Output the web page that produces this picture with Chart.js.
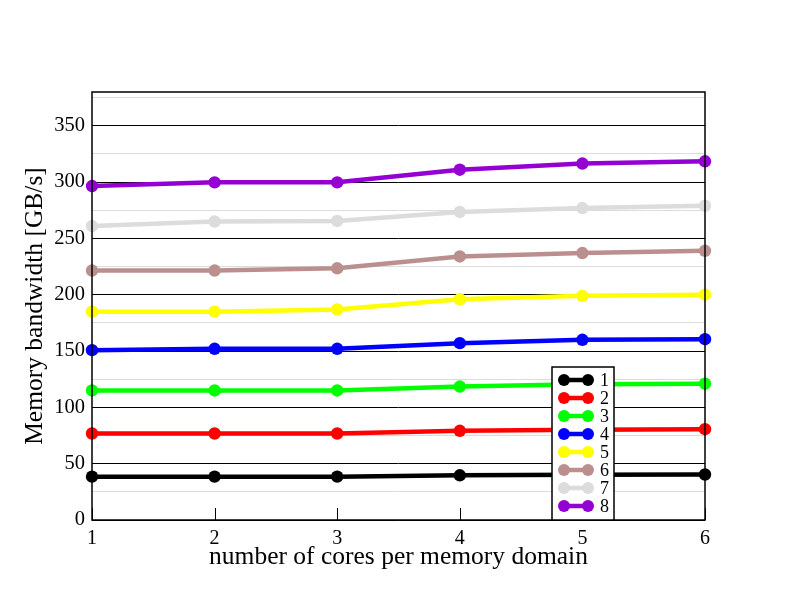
<!DOCTYPE html>
<html>
<head>
<meta charset="utf-8">
<script src="https://cdn.jsdelivr.net/npm/chart.js@4"></script>
<style>
  body { margin: 0; background: #fff; }
  canvas { display: block; }
</style>
</head>
<body>
<canvas id="chart" width="792" height="612"></canvas>
<script>
// Données
const cores = [1, 2, 3, 4, 5, 6];
const seriesLabels = ['1', '2', '3', '4', '5', '6', '7', '8'];
const seriesColors = ['#000000', '#ff0000', '#00ff00', '#0000ff', '#ffff00', '#bc8f8f', '#dcdcdc', '#9400d3'];
const bw1 = [38.5, 38.5, 38.5, 39.7, 40.2, 40.4];
const bw2 = [76.8, 76.8, 76.8, 79.2, 80.2, 80.6];
const bw3 = [115, 115, 115, 118.5, 120.5, 121];
const bw4 = [150.8, 152, 152, 157, 160, 160.5];
const bw5 = [185, 185, 187, 196, 199, 200];
const bw6 = [221.5, 221.5, 223.5, 234, 237, 239];
const bw7 = [261, 265, 265.5, 273.5, 277, 279];
const bw8 = [296.5, 299.8, 299.8, 311, 316.5, 318.5];
const allSeries = [bw1, bw2, bw3, bw4, bw5, bw6, bw7, bw8];

const serif = 'Liberation Serif';

// Cadre, petites graduations et légende dans la zone du graphique
const framePlugin = {
  id: 'frame',
  afterDraw(chart) {
    const ctx = chart.ctx;
    const a = chart.chartArea;
    const xs = chart.scales.x;
    ctx.save();
    ctx.strokeStyle = '#000';
    ctx.lineWidth = 1.5;
    ctx.strokeRect(a.left, a.top, a.right - a.left, a.bottom - a.top);
    ctx.lineWidth = 1;
    cores.forEach(c => {
      const px = Math.round(xs.getPixelForValue(c)) + 0.5;
      ctx.beginPath();
      ctx.moveTo(px, a.bottom);
      ctx.lineTo(px, a.bottom - 12);
      ctx.stroke();
    });

    // légende
    const bx = 552, by = 367, bw = 62, bh = a.bottom - by;
    ctx.fillStyle = '#fff';
    ctx.fillRect(bx, by, bw, bh);
    ctx.strokeStyle = '#000';
    ctx.lineWidth = 1.5;
    ctx.strokeRect(bx, by, bw, bh);
    ctx.font = '18px "' + serif + '"';
    ctx.textBaseline = 'middle';
    chart.data.datasets.forEach((ds, i) => {
      const y = by + 13 + i * 18;
      ctx.strokeStyle = ds.borderColor;
      ctx.fillStyle = ds.borderColor;
      ctx.lineWidth = 4.5;
      ctx.beginPath();
      ctx.moveTo(564, y);
      ctx.lineTo(588, y);
      ctx.stroke();
      [564, 588].forEach(px => {
        ctx.beginPath();
        ctx.arc(px, y, 6, 0, Math.PI * 2);
        ctx.fill();
      });
      ctx.fillStyle = '#000';
      ctx.fillText(ds.label, 600, y + 1);
    });
    ctx.restore();
  }
};

new Chart(document.getElementById('chart').getContext('2d'), {
  type: 'line',
  data: {
    datasets: allSeries.map((vals, i) => ({
      label: seriesLabels[i],
      data: cores.map((c, j) => ({ x: c, y: vals[j] })),
      borderColor: seriesColors[i],
      backgroundColor: seriesColors[i],
      borderWidth: 4.5,
      pointRadius: 6.2,
      pointHoverRadius: 6.2,
      pointBorderWidth: 0,
      tension: 0,
      clip: false
    }))
  },
  options: {
    responsive: false,
    animation: false,
    layout: { padding: { top: 92, right: 87, left: 0, bottom: 0 } },
    plugins: {
      legend: { display: false },
      tooltip: { enabled: false }
    },
    scales: {
      x: {
        type: 'linear',
        min: 1,
        max: 6,
        afterFit: s => { s.height = 92; },
        grid: { display: false, drawTicks: false },
        border: { display: false },
        ticks: {
          stepSize: 1,
          padding: 7,
          color: '#000',
          font: { family: serif, size: 20 }
        },
        title: {
          display: true,
          text: 'number of cores per memory domain',
          color: '#000',
          font: { family: serif, size: 25.5 },
          padding: { top: 0, bottom: 39 }
        }
      },
      y: {
        min: 0,
        max: 380,
        afterFit: s => { s.width = 92; },
        grid: {
          drawTicks: false,
          lineWidth: 1,
          color: c => (c.tick && c.tick.value % 50 === 0) ? '#000' : '#dcdcdc'
        },
        border: { display: false },
        ticks: {
          stepSize: 25,
          includeBounds: false,
          padding: 7,
          color: '#000',
          font: { family: serif, size: 20.5 },
          callback: v => (v % 50 === 0 ? v : '')
        },
        title: {
          display: true,
          text: 'Memory bandwidth [GB/s]',
          color: '#000',
          font: { family: serif, size: 25.5 },
          padding: { top: 20, bottom: 0 }
        }
      }
    }
  },
  plugins: [framePlugin]
});
</script>
</body>
</html>
